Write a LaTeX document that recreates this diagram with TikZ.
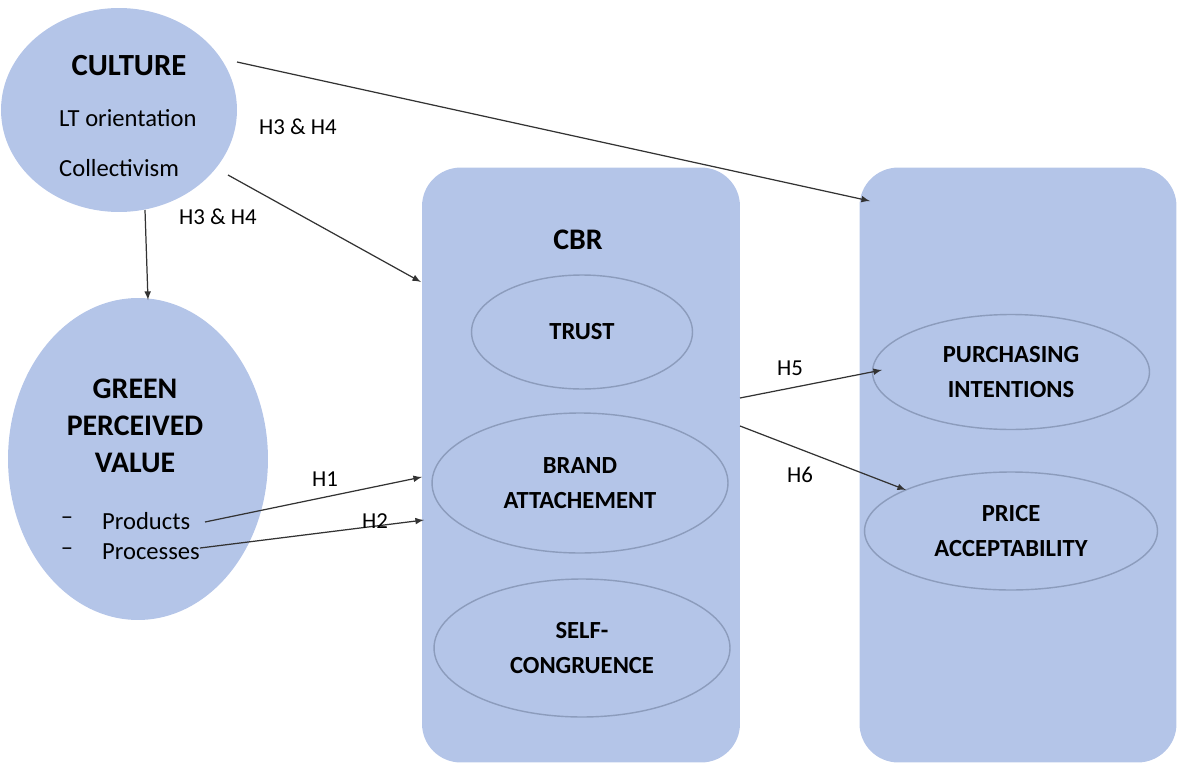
\documentclass[tikz,border=0pt]{standalone}
\usepackage{fontspec}
\setmainfont{Carlito}
\usetikzlibrary{shapes.geometric}

\definecolor{boxblue}{HTML}{B4C5E8}
\definecolor{rimblue}{HTML}{8C9CBC}
\tikzset{
  blob/.style={ellipse, fill=boxblue, draw=none, inner sep=0pt},
  panel/.style={rectangle, rounded corners=22pt, fill=boxblue, draw=none, inner sep=0pt},
  ring/.style={ellipse, draw=rimblue, line width=0.8pt, inner sep=0pt, align=center, font=\bfseries\fontsize{14}{19.5}\selectfont},
  hlabel/.style={font=\fontsize{13}{15}\selectfont},
  plain/.style={font=\fontsize{14}{16}\selectfont},
  link/.style={-latex, line width=0.7pt, black!80}
}

\begin{document}
\begin{tikzpicture}[x=0.02cm, y=-0.02cm]
\useasboundingbox (0,0) rectangle (1179,767);

% left side
\node[blob, minimum width=4.72cm, minimum height=4.08cm] (culture) at (119,110) {};
\node[blob, minimum width=5.2cm, minimum height=6.44cm] (gpv) at (138,459) {};

% panels
\node[panel, minimum width=6.36cm, minimum height=11.9cm] (cbr) at (581,465) {};
\node[panel, minimum width=6.34cm, minimum height=11.9cm] (outbox) at (1018,465) {};

% texts in culture
\node[font=\bfseries\fontsize{17.5}{20}\selectfont] (cultitle) at (129,66) {CULTURE};
\node[plain, anchor=west] (lto) at (53,118) {LT orientation};
\node[plain, anchor=west] (coll) at (53,168) {Collectivism};

% texts in green perceived value
\node[align=center, font=\bfseries\fontsize{17}{21}\selectfont] (gpvtitle) at (135,426) {GREEN\\PERCEIVED\\VALUE};
\node[plain] (dasha) at (67,521) {--};
\node[plain] (dashb) at (67,552) {--};
\node[plain, anchor=west] (prod) at (96,521) {Products};
\node[plain, anchor=west] (proc) at (96,552) {Processes};

% CBR
\node[font=\bfseries\fontsize{17}{20}\selectfont] (cbrtitle) at (578,240) {CBR};
\node[ring, minimum width=4.42cm, minimum height=2.28cm] (trust) at (582,332) {TRUST};
\node[ring, minimum width=5.92cm, minimum height=2.8cm] (attach) at (580,483) {BRAND\\ATTACHEMENT};
\node[ring, minimum width=5.92cm, minimum height=2.76cm] (congr) at (582,648) {SELF-\\CONGRUENCE};

% outcomes
\node[ring, minimum width=5.54cm, minimum height=2.3cm] (purch) at (1011,372) {PURCHASING\\INTENTIONS};
\node[ring, minimum width=5.86cm, minimum height=2.36cm] (price) at (1011,531) {PRICE\\ACCEPTABILITY};

% arrow ends
\coordinate (c1) at (237,62);
\coordinate (c2) at (228,175);
\coordinate (c3) at (145,210);
\coordinate (o1) at (870,201);
\coordinate (b1) at (421,282);
\coordinate (g1) at (148,300);
\coordinate (s1) at (205,522);
\coordinate (s2) at (200,548);
\coordinate (h1) at (422,477);
\coordinate (h2) at (424,520);
\coordinate (p1) at (740,398);
\coordinate (p2) at (740,426);
\coordinate (q1) at (882,370);
\coordinate (q2) at (906,490);

\draw[link] (c1) -- (o1);
\draw[link] (c2) -- (b1);
\draw[link] (c3) -- (g1);
\draw[link] (s1) -- (h1);
\draw[link] (s2) -- (h2);
\draw[link] (p1) -- (q1);
\draw[link] (p2) -- (q2);

% hypotheses
\node[hlabel] (lab34a) at (298,127) {H3 \& H4};
\node[hlabel] (lab34b) at (218,217) {H3 \& H4};
\node[hlabel] (lab1) at (325,479) {H1};
\node[hlabel] (lab2) at (375,521) {H2};
\node[hlabel] (lab5) at (790,368) {H5};
\node[hlabel] (lab6) at (800,475) {H6};
\end{tikzpicture}
\end{document}
